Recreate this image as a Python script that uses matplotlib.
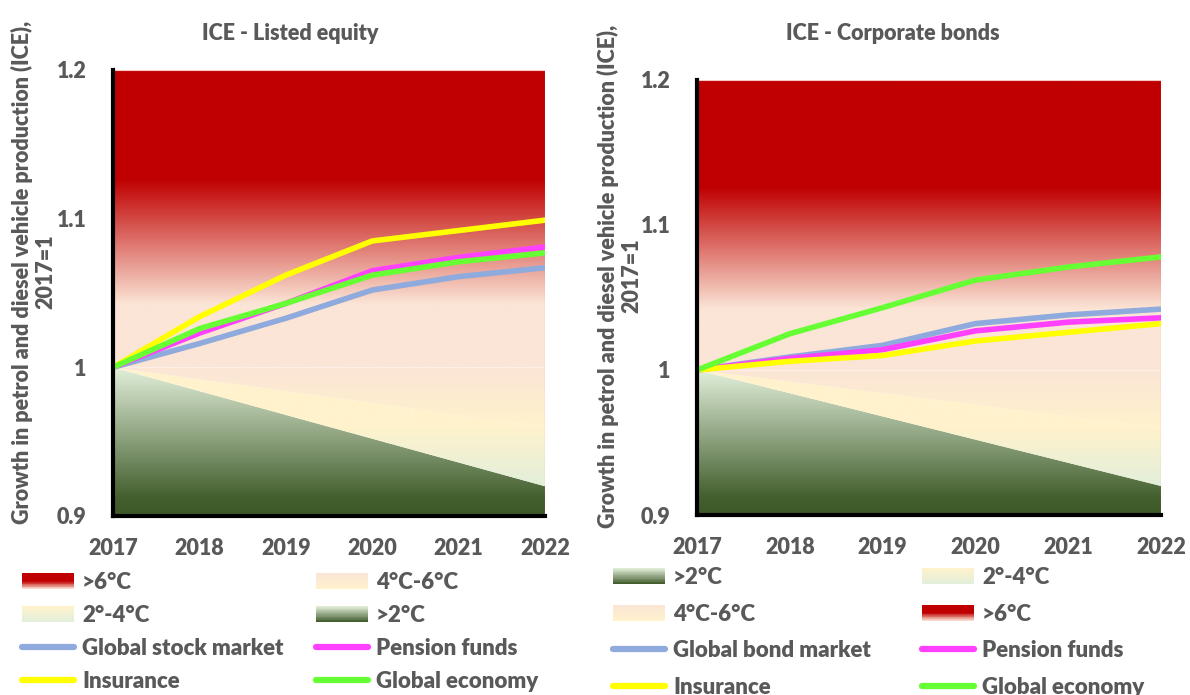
import numpy as np
import matplotlib
matplotlib.use("Agg")
from matplotlib import pyplot as plt
from matplotlib.colors import LinearSegmentedColormap
from matplotlib.legend_handler import HandlerBase
from matplotlib.patches import Rectangle
from matplotlib.lines import Line2D

WEIGHT = 'heavy'
plt.rcParams['font.family'] = ['Lato', 'DejaVu Sans']
plt.rcParams['font.weight'] = WEIGHT
GREY = '#595959'

years = [2017, 2018, 2019, 2020, 2021, 2022]

# listed equity
eq_stock = [1.0, 1.016, 1.033, 1.052, 1.061, 1.067]
eq_pension = [1.0, 1.023, 1.043, 1.065, 1.074, 1.081]
eq_insurance = [1.0, 1.034, 1.062, 1.085, 1.092, 1.099]
eq_economy = [1.0, 1.026, 1.043, 1.062, 1.071, 1.077]

# corporate bonds
bd_bond = [1.0, 1.009, 1.017, 1.032, 1.038, 1.042]
bd_pension = [1.0, 1.008, 1.014, 1.027, 1.033, 1.036]
bd_insurance = [1.0, 1.006, 1.010, 1.020, 1.026, 1.032]
bd_economy = [1.0, 1.025, 1.043, 1.062, 1.071, 1.078]

# scenario band boundaries
band_2c = [1.0, 0.984, 0.968, 0.952, 0.936, 0.92]
band_4c = [1.0, 0.992, 0.984, 0.976, 0.968, 0.96]
band_6c = [1.0, 1.0, 1.0, 1.0, 1.0, 1.0]
y_bottom = 0.9
y_top = 1.2

C_BLUE = '#8FAADC'
C_PINK = '#FF40FF'
C_YELLOW = '#FFFF00'
C_GREEN = '#66FF33'

stops_2c = [(0, '#3D5928'), (0.12, '#435F2E'), (1, '#E2EFDA')]
stops_24 = [(0, '#E2EFDA'), (0.5, '#FFF2CC'), (1, '#FFF2CC')]
stops_46 = [(0, '#FFF2CC'), (1, '#FBE5D6')]
stops_6c = [(0, '#FBE5D6'), (0.21, '#FBE5D6'), (0.63, '#C00000'), (1, '#C00000')]


def grad_fill(ax, lo, hi, stops, ylo, yhi):
    poly = ax.fill_between(years, lo, hi, facecolor='none', edgecolor='none')
    cmap = LinearSegmentedColormap.from_list('g', stops)
    img = ax.imshow(np.linspace(0, 1, 256).reshape(-1, 1), cmap=cmap,
                    extent=[years[0], years[-1], ylo, yhi], origin='lower',
                    aspect='auto', interpolation='bilinear', zorder=1)
    img.set_clip_path(poly.get_paths()[0], transform=ax.transData)


class GradHandle:
    def __init__(self, stops):
        self.stops = stops


class HandlerGrad(HandlerBase):
    def create_artists(self, legend, orig_handle, xdescent, ydescent,
                       width, height, fontsize, trans):
        cmap = LinearSegmentedColormap.from_list('h', orig_handle.stops)
        n = 20
        out = []
        for i in range(n):
            r = Rectangle((-xdescent, -ydescent + height * i / n), width, height / n + 0.3,
                          facecolor=cmap((i + 0.5) / n), edgecolor='none', transform=trans)
            out.append(r)
        return out


def panel(ax, series, title, title_x, ylab_xy):
    grad_fill(ax, [y_bottom] * 6, band_2c, stops_2c, 0.9, 1.0)
    grad_fill(ax, band_2c, band_4c, stops_24, 0.92, 1.0)
    grad_fill(ax, band_4c, band_6c, stops_46, 0.96, 1.0)
    grad_fill(ax, band_6c, [y_top] * 6, stops_6c, 1.0, 1.2)
    ax.plot(years, band_6c, color='#FDEEE6', lw=0.8, zorder=2)
    for vals, col in series:
        ax.plot(years, vals, color=col, lw=4, zorder=3)
    ax.set_xlim(2017, 2022)
    ax.set_ylim(0.9, 1.2)
    ax.set_yticks([0.9, 1.0, 1.1, 1.2])
    ax.set_yticklabels(['0.9', '1', '1.1', '1.2'])
    ax.set_xticks(years)
    ax.tick_params(length=0, labelsize=15.5, labelcolor=GREY)
    ax.tick_params(axis='y', pad=19)
    ax.tick_params(axis='x', pad=16)
    for s in ['top', 'right']:
        ax.spines[s].set_visible(False)
    for s in ['left', 'bottom']:
        ax.spines[s].set_linewidth(3)
        ax.spines[s].set_color('black')
        ax.spines[s].set_zorder(5)
    ax.axvline(2022, color='#E57373', lw=0.8, zorder=2)
    ax.axhline(1.2, color='#F4C7C7', lw=0.8, zorder=2)
    fig.text(title_x / 1190, 1 - 34 / 695, title, ha='center', va='center',
             fontsize=15.5, color=GREY, fontweight=WEIGHT)
    fig.text(ylab_xy[0] / 1190, 1 - ylab_xy[1] / 695,
             'Growth in petrol and diesel vehicle production (ICE),\n2017=1',
             rotation=90, ha='center', va='center', ma='center',
             fontsize=15.5, color=GREY, fontweight=WEIGHT, linespacing=1.15)


fig = plt.figure(figsize=(11.9, 6.95), dpi=100)
ax1 = fig.add_axes([113 / 1190, 1 - 516 / 695, (545 - 113) / 1190, (516 - 70) / 695])
ax2 = fig.add_axes([697 / 1190, 1 - 515 / 695, (1161 - 697) / 1190, (515 - 80) / 695])

panel(ax1, [(eq_stock, C_BLUE), (eq_pension, C_PINK), (eq_insurance, C_YELLOW), (eq_economy, C_GREEN)],
      'ICE - Listed equity', 290, (34, 272))
panel(ax2, [(bd_bond, C_BLUE), (bd_pension, C_PINK), (bd_insurance, C_YELLOW), (bd_economy, C_GREEN)],
      'ICE - Corporate bonds', 893, (620, 276))

h6 = GradHandle([(0, '#FBE5D6'), (0.5, '#C00000'), (1, '#C00000')])
h46 = GradHandle([(0, '#FFF2CC'), (1, '#FBE5D6')])
h24 = GradHandle([(0, '#E2EFDA'), (1, '#FFF2CC')])
h2 = GradHandle([(0, '#3D5928'), (0.35, '#7A8F6A'), (1, '#E2EFDA')])


def line_h(c):
    return Line2D([], [], color=c, lw=4.5, solid_capstyle='round')


def col_legend(handles, labels, x, y, spacing):
    leg = fig.legend(handles, labels, loc='upper left',
                     bbox_to_anchor=(x / 1190, 1 - y / 695), frameon=False,
                     borderpad=0, borderaxespad=0, handlelength=2.35, handleheight=0.7,
                     handletextpad=0.35, labelspacing=spacing,
                     prop={'size': 16, 'weight': WEIGHT},
                     handler_map={GradHandle: HandlerGrad()})
    for t in leg.get_texts():
        t.set_color(GREY)
    return leg


col_legend([h6, h24, line_h(C_BLUE), line_h(C_YELLOW)],
           ['>6°C', '2°-4°C', 'Global stock market', 'Insurance'], 22, 572, 0.54)
col_legend([h46, h2, line_h(C_PINK), line_h(C_GREEN)],
           ['4°C-6°C', '>2°C', 'Pension funds', 'Global economy'], 316, 572, 0.54)
col_legend([h2, h46, line_h(C_BLUE), line_h(C_YELLOW)],
           ['>2°C', '4°C-6°C', 'Global bond market', 'Insurance'], 613, 567, 0.70)
col_legend([h24, h6, line_h(C_PINK), line_h(C_GREEN)],
           ['2°-4°C', '>6°C', 'Pension funds', 'Global economy'], 922, 567, 0.70)

fig.savefig('out.png', dpi=100)
